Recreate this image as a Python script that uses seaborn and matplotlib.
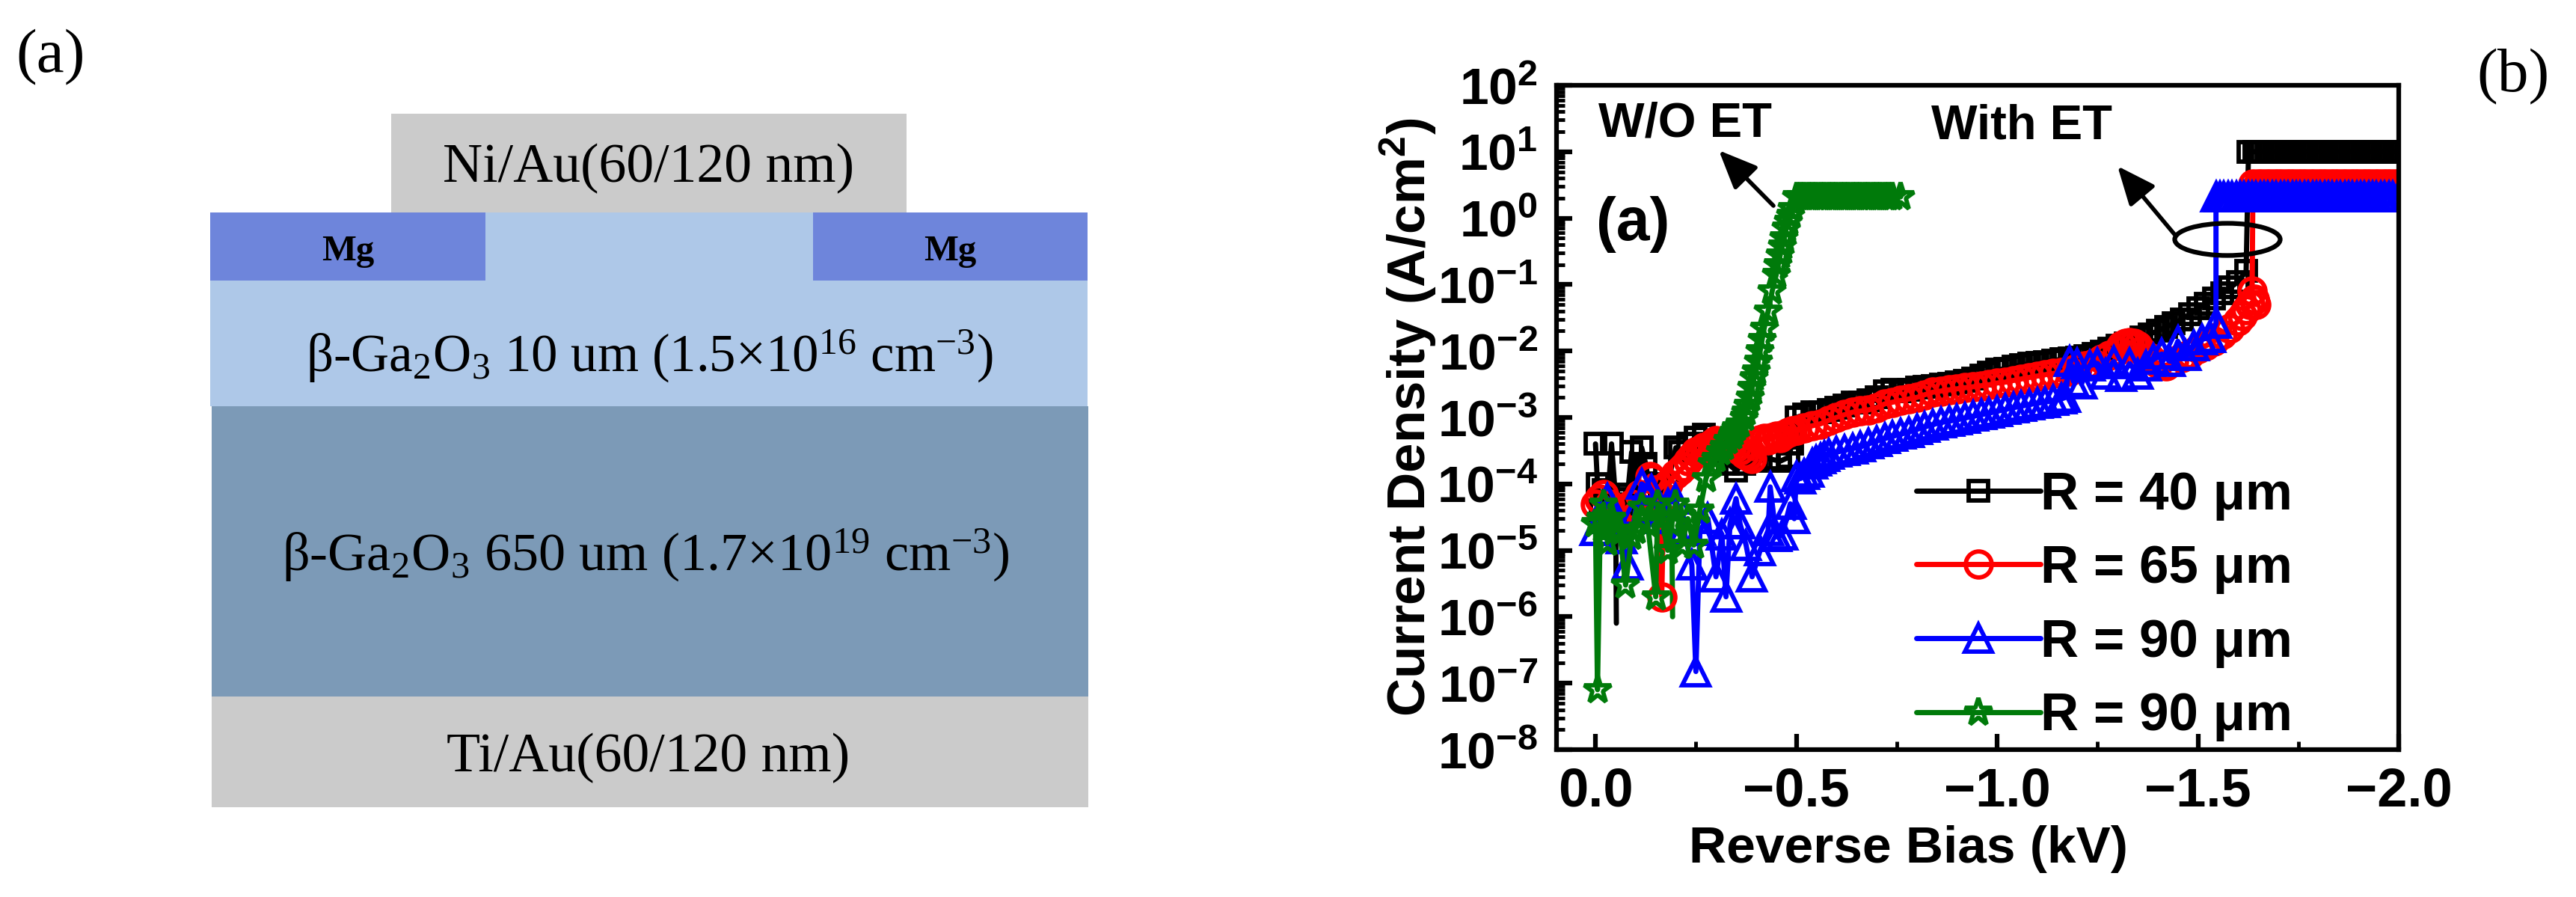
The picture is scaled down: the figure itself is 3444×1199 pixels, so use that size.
import matplotlib
matplotlib.use("Agg")
import matplotlib.pyplot as plt
import seaborn as sns
from matplotlib.patches import Rectangle, Ellipse
from matplotlib.ticker import LogLocator, NullFormatter, FixedLocator

W, H = 3444, 1199
SANS = "Liberation Sans"
SERIF = "Liberation Serif"

# black: noisy start, slow rise, plateau
black_low_x = [0.0,0.005,0.012,0.02,0.03,0.04,0.05,0.06,0.07,0.08,0.09,0.10,0.115,0.125,0.14,0.16,0.18,0.2,0.21,0.23,0.25,0.27,0.29,0.31,0.33,0.35,0.37,0.4,0.43,0.46,0.48,0.49]
black_low_y = [4e-4,1e-4,4e-5,8e-5,5e-5,4e-4,6e-5,3e-5,5e-5,7e-5,3e-4,4e-5,3.5e-4,2e-4,6e-5,8e-5,1e-4,3.5e-4,3e-4,4e-4,5e-4,5.5e-4,4e-4,3e-4,2e-4,1.6e-4,2e-4,2.2e-4,2.4e-4,2.2e-4,2.5e-4,4e-4]
black_mid_x = [.50,.52,.54,.56,.58,.60,.62,.64,.66,.68,.70,.72,.74,.76,.78,.80,.82,.84,.86,.88,.90,.92,.94,.96,.98,1.00,1.02,1.04,1.06,1.08,1.10,1.12,1.14,1.16,1.18,1.20,1.22,1.24,1.26,1.28,1.30,1.32,1.34,1.36,1.38,1.40,1.42,1.44,1.46,1.48,1.50,1.52,1.54,1.56,1.58,1.60,1.62]
black_mid_y = [1e-3,1.1e-3,1.2e-3,1.2e-3,1.3e-3,1.4e-3,1.5e-3,1.7e-3,1.7e-3,1.8e-3,2e-3,2.5e-3,2.6e-3,2.5e-3,2.6e-3,2.8e-3,2.9e-3,3e-3,3.1e-3,3.2e-3,3.4e-3,3.6e-3,3.9e-3,4.3e-3,4.8e-3,5.2e-3,5.4e-3,5.8e-3,6.2e-3,6.4e-3,6.6e-3,6.9e-3,7.2e-3,7.5e-3,7.8e-3,8e-3,8.4e-3,9e-3,9.8e-3,1.1e-2,1.2e-2,1.3e-2,1.4e-2,1.6e-2,1.8e-2,2e-2,2.3e-2,2.6e-2,3e-2,3.6e-2,4.4e-2,5.2e-2,6.2e-2,7.4e-2,9e-2,1.1e-1,1.6e-1]
black_top_x = [1.626,1.64,1.65,1.66,1.67,1.68,1.69,1.70,1.71,1.72,1.73,1.74,1.75,1.76,1.77,1.78,1.79,1.80,1.81,1.82,1.83,1.84,1.85,1.86,1.87,1.88,1.89,1.90,1.91,1.92,1.93,1.94,1.95,1.96,1.97,1.98,1.99,2.0]
black_top_y = [10.0] * 38
black_spike_x = [0.05, 0.052]
black_spike_y = [6e-5, 8e-7]

# red
red_low_x = [0.0,0.01,0.02,0.035,0.05,0.07,0.09,0.11,0.135,0.14,0.15,0.165,0.17,0.18,0.2,0.21,0.22,0.23,0.24,0.25,0.26,0.27,0.28,0.29,0.3,0.31,0.32,0.33,0.34,0.35,0.36,0.37,0.38,0.39,0.41,0.42,0.43,0.44,0.45,0.46,0.47,0.48,0.49]
red_low_y = [5e-5,6e-5,7e-5,5e-5,3e-5,4e-5,5e-5,7e-5,1.3e-4,1.2e-4,8e-5,2e-6,6e-5,1e-4,1.4e-4,1.6e-4,1.8e-4,2.2e-4,2.6e-4,3e-4,3.2e-4,3.5e-4,3.6e-4,4e-4,4.5e-4,4.2e-4,4e-4,4e-4,3.8e-4,3.5e-4,3.2e-4,2.8e-4,2.6e-4,2.4e-4,4.6e-4,4.8e-4,4.6e-4,5e-4,5.2e-4,5e-4,5.5e-4,6e-4,6.2e-4]
red_mid_x = [.50,.52,.54,.56,.58,.60,.62,.64,.66,.68,.70,.72,.74,.76,.78,.80,.82,.84,.86,.88,.90,.92,.94,.96,.98,1.00,1.02,1.04,1.06,1.08,1.10,1.12,1.14,1.16,1.18,1.20,1.22,1.24,1.26,1.28,1.30,1.31,1.32,1.33,1.34,1.35,1.36,1.38,1.40,1.42,1.44,1.46,1.48,1.50,1.52,1.54,1.56,1.58,1.60,1.61,1.62,1.63,1.64,1.645,1.64,1.635]
red_mid_y = [6.5e-4,7e-4,7.5e-4,8e-4,9e-4,1e-3,1.1e-3,1.2e-3,1.25e-3,1.3e-3,1.4e-3,1.6e-3,1.7e-3,1.8e-3,1.9e-3,2e-3,2.2e-3,2.4e-3,2.5e-3,2.6e-3,2.7e-3,2.8e-3,2.9e-3,3e-3,3.1e-3,3.3e-3,3.4e-3,3.6e-3,3.8e-3,4e-3,4.2e-3,4.4e-3,4.6e-3,4.8e-3,5e-3,5.5e-3,6e-3,6.5e-3,7.5e-3,8.5e-3,1e-2,1.2e-2,1.3e-2,1.35e-2,1.3e-2,1.2e-2,1e-2,8e-3,6.5e-3,6e-3,7e-3,8e-3,9e-3,1.1e-2,1.2e-2,1.4e-2,1.8e-2,2.2e-2,2.8e-2,3.4e-2,4.2e-2,5e-2,5.8e-2,5e-2,6e-2,8e-2]
red_top_x = [1.637,1.65,1.66,1.67,1.68,1.69,1.70,1.71,1.72,1.73,1.74,1.75,1.76,1.77,1.78,1.79,1.80,1.81,1.82,1.83,1.84,1.85,1.86,1.87,1.88,1.89,1.90,1.91,1.92,1.93,1.94,1.95,1.96,1.97,1.98,1.99,2.0]
red_top_y = [3.3] * 37

# blue
blue_low_x = [0.0,0.015,0.03,0.05,0.065,0.08,0.1,0.115,0.14,0.16,0.18,0.2,0.22,0.24,0.25,0.26,0.28,0.3,0.315,0.325,0.335,0.35,0.36,0.375,0.39,0.41,0.43,0.435,0.45,0.465,0.485,0.495]
blue_low_y = [2e-5,3e-5,6e-5,3e-5,1.5e-5,6e-6,4e-5,1e-4,8e-5,3e-5,5e-5,6e-5,2e-5,6e-6,1.5e-7,2e-5,3e-5,4e-6,1.7e-5,2e-6,2.5e-5,6e-5,2.5e-5,1.2e-5,4e-6,1e-5,2e-5,9e-5,1.6e-5,1.7e-5,5e-5,3e-5]
blue_mid_x = [.50,.51,.52,.53,.54,.55,.56,.57,.58,.60,.62,.64,.66,.68,.70,.72,.74,.76,.78,.80,.82,.84,.86,.88,.90,.92,.94,.96,.98,1.00,1.02,1.04,1.06,1.08,1.10,1.12,1.14,1.16,1.17,1.18,1.19,1.20,1.21,1.23,1.25,1.27,1.29,1.31,1.33,1.35,1.37,1.39,1.41,1.43,1.45,1.47,1.49,1.51,1.53,1.545]
blue_mid_y = [1.3e-4,1.2e-4,1.4e-4,1.5e-4,2e-4,2.2e-4,2.4e-4,2.6e-4,2.8e-4,3e-4,3.2e-4,3.4e-4,3.6e-4,4e-4,4.4e-4,4.8e-4,5.2e-4,5.6e-4,6e-4,6.6e-4,7.2e-4,7.8e-4,8.4e-4,8.8e-4,9.2e-4,9.8e-4,1.04e-3,1.1e-3,1.16e-3,1.24e-3,1.32e-3,1.4e-3,1.48e-3,1.56e-3,1.64e-3,1.7e-3,1.8e-3,1.9e-3,2e-3,7e-3,3.5e-3,6.5e-3,3.2e-3,6e-3,6.5e-3,4.5e-3,7e-3,4.2e-3,6.5e-3,4.5e-3,6e-3,7.5e-3,9e-3,7e-3,1.4e-2,8.5e-3,1.2e-2,1.5e-2,1.6e-2,2.6e-2]
blue_top_x = [1.545,1.555,1.565,1.575,1.585,1.595,1.605,1.615,1.625,1.635,1.645,1.655,1.665,1.675,1.685,1.695,1.705,1.715,1.725,1.735,1.745,1.755,1.765,1.775,1.785,1.795,1.805,1.815,1.825,1.835,1.845,1.855,1.865,1.875,1.885,1.895,1.905,1.915,1.925,1.935,1.945,1.955,1.965,1.975,1.985,2.0]
blue_top_y = [2.1] * 46

# green
green_low_x = [0.0,0.005,0.012,0.02,0.03,0.04,0.05,0.06,0.075,0.09,0.1,0.115,0.13,0.15,0.155,0.165,0.18,0.19,0.2,0.215,0.23,0.245,0.26,0.275,0.29,0.30,0.31,0.32,0.33,0.34,0.345,0.35,0.36,0.37,0.375,0.38,0.385,0.39,0.395,0.40,0.405,0.41,0.415,0.42,0.43,0.44,0.45,0.455,0.46,0.465,0.47,0.475,0.48,0.485,0.49]
green_low_y = [2.5e-5,8e-8,3e-5,5e-5,1.3e-5,3e-5,2e-5,2e-5,3e-6,1.6e-5,2e-5,4.5e-5,2.5e-5,2e-6,5e-5,3e-5,1e-5,2.5e-5,5e-5,1.2e-5,3e-5,1.2e-5,4e-5,1.2e-4,2e-4,2.4e-4,3e-4,3.6e-4,4.5e-4,5.2e-4,6e-4,7e-4,8e-4,1e-3,1.2e-3,1.5e-3,2e-3,2.8e-3,4e-3,5e-3,7e-3,1e-2,1.5e-2,2.2e-2,4e-2,8e-2,0.14,0.2,0.28,0.38,0.5,0.7,0.9,1.1,1.4]
green_top_x = [0.5,0.51,0.52,0.53,0.54,0.55,0.56,0.57,0.58,0.59,0.6,0.61,0.62,0.63,0.64,0.65,0.66,0.67,0.68,0.69,0.7,0.71,0.72,0.73,0.74,0.76]
green_top_y = [2.1] * 26
green_spike_x = [0.19, 0.192]
green_spike_y = [2.5e-5, 1e-6]

series_names = ["R = 40 μm", "R = 65 μm", "R = 90 μm", "R = 90 μm"]
series_x = [black_low_x + black_mid_x + black_top_x, red_low_x + red_mid_x + red_top_x,
            blue_low_x + blue_mid_x + blue_top_x, green_low_x + green_top_x]
series_y = [black_low_y + black_mid_y + black_top_y, red_low_y + red_mid_y + red_top_y,
            blue_low_y + blue_mid_y + blue_top_y, green_low_y + green_top_y]
series_colors = ["#000000", "#FF0000", "#0000FF", "#007A0A"]
series_markers = ["s", "o", "^", "*"]
series_sizes = [19, 25, 26, 28]

x_tick_vals = [0.0, -0.5, -1.0, -1.5, -2.0]
x_tick_labels = ["0.0", "−0.5", "−1.0", "−1.5", "−2.0"]
y_exponents = [-8, -7, -6, -5, -4, -3, -2, -1, 0, 1, 2]

layer_names = ["Ni/Au(60/120 nm)", r"β-Ga$_2$O$_3$ 10 um (1.5×10$^{16}$ cm$^{-3}$)",
               r"β-Ga$_2$O$_3$ 650 um (1.7×10$^{19}$ cm$^{-3}$)", "Ti/Au(60/120 nm)"]

sns.set_theme(style="ticks")
plt.rcParams.update({
    "font.family": [SANS, "DejaVu Sans"],
    "font.weight": "bold",
    "mathtext.fontset": "custom",
    "mathtext.rm": SERIF + ":normal",
    "mathtext.bf": SANS + ":bold",
    "mathtext.default": "rm",
    "text.color": "black",
    "axes.labelcolor": "black",
    "xtick.color": "black",
    "ytick.color": "black",
    "axes.edgecolor": "black",
})

fig = plt.figure(figsize=(W / 100, H / 100), dpi=100, facecolor="white")

# plot axes
L, R, T, B = 2081, 3207, 114, 1002
ax = fig.add_axes([L / W, 1 - B / H, (R - L) / W, (B - T) / H])
for sx, sy, c in [(black_spike_x, black_spike_y, series_colors[0]), (green_spike_x, green_spike_y, series_colors[3])]:
    sns.lineplot(x=[-v for v in sx], y=sy, ax=ax, color=c, linewidth=5, sort=False, estimator=None,
                 errorbar=None, legend=False)
for nx, ny, c, m, s, name in zip(series_x, series_y, series_colors, series_markers, series_sizes, series_names):
    sns.lineplot(x=[-v for v in nx], y=ny, ax=ax, color=c, marker=m, markersize=s, markerfacecolor="none",
                 markeredgecolor=c, markeredgewidth=4.2, linewidth=5, sort=False, estimator=None,
                 errorbar=None, label=name)
ax.set_yscale("log")
ax.set_xlim(0.097, -2.0)
ax.set_ylim(1e-8, 1e2)
ax.xaxis.set_major_locator(FixedLocator(x_tick_vals))
ax.set_xticklabels(x_tick_labels, fontsize=52, fontweight="bold", family=SANS)
ax.xaxis.set_minor_locator(FixedLocator([-0.25, -0.75, -1.25, -1.75]))
ax.yaxis.set_major_locator(FixedLocator([10.0 ** e for e in y_exponents]))
ax.set_yticklabels([r"$\mathbf{10^{%d}}$" % e for e in y_exponents], fontsize=50)
ax.yaxis.set_minor_locator(LogLocator(base=10, subs=range(2, 10), numticks=20))
ax.yaxis.set_minor_formatter(NullFormatter())
ax.tick_params(axis="both", which="major", direction="in", length=15, width=4.5, pad=16)
ax.tick_params(axis="both", which="minor", direction="in", length=8, width=3.5)
ax.tick_params(axis="y", which="major", pad=18)
for sp in ax.spines.values():
    sp.set_visible(True)
    sp.set_linewidth(4.5)
ax.set_xlabel("Reverse Bias (kV)", fontsize=50, fontweight="bold", va="center")
ax.xaxis.set_label_coords(0.418, -0.15)
ax.set_ylabel(r"Current Density (A/cm$\mathbf{^2}$)", fontsize=51, fontweight="bold", va="center")
ax.yaxis.set_label_coords(-0.176, 0.5)
leg = ax.legend(loc="lower left", bbox_to_anchor=(0.408, -0.012), frameon=False, fontsize=51, handlelength=2.35,
                labelspacing=0.46, handletextpad=0.0, borderpad=0.3, borderaxespad=0)

# overlay in figure pixels
ov = fig.add_axes([0, 0, 1, 1], facecolor="none")
ov.set_xlim(0, W)
ov.set_ylim(H, 0)
ov.axis("off")

def band(x0, x1, y0, y1, c):
    ov.add_patch(Rectangle((x0, y0), x1 - x0, y1 - y0, facecolor=c, edgecolor="none"))

band(523, 1212, 152, 284, "#CBCBCB")
band(281, 1454, 284, 543, "#AEC8E8")
band(281, 649, 284, 375, "#6E85DB")
band(1087, 1454, 284, 375, "#6E85DB")
band(283, 1455, 543, 931, "#7C9AB7")
band(283, 1455, 931, 1079, "#CBCBCB")

def serif(x, y, s, size=53, **kw):
    ov.text(x, y, s, fontsize=size, family=SERIF, ha="center", va="center", fontweight="normal", **kw)

serif(867, 225, layer_names[0])
serif(868, 476, layer_names[1], 51)
serif(863, 742, layer_names[2], 52)
serif(867, 1013, layer_names[3])
ov.text(465, 336, "Mg", fontsize=35, family=SERIF, fontweight="bold", ha="center", va="center")
ov.text(1270, 336, "Mg", fontsize=35, family=SERIF, fontweight="bold", ha="center", va="center")
serif(68, 77, "(a)", 60)
serif(3360, 103, "(b)", 60)

ov.text(2253, 166, "W/O ET", fontsize=47, fontweight="bold", family=SANS, ha="center", va="center")
ov.text(2703, 168, "With ET", fontsize=47, fontweight="bold", family=SANS, ha="center", va="center")
ov.text(2183, 300, "(a)", fontsize=58, fontweight="bold", family=SANS, ha="center", va="center")
arrow = dict(arrowstyle="-|>,head_width=0.3,head_length=0.7", color="black", lw=4, shrinkA=0, shrinkB=0, mutation_scale=45)
ov.annotate("", xy=(2298, 201), xytext=(2371, 275), arrowprops=arrow)
ov.annotate("", xy=(2831, 222), xytext=(2907, 313), arrowprops=arrow)
ov.add_patch(Ellipse((2978, 320), 141, 43, facecolor="none", edgecolor="black", lw=4.5))

fig.savefig("out.png", dpi=100, facecolor="white")
